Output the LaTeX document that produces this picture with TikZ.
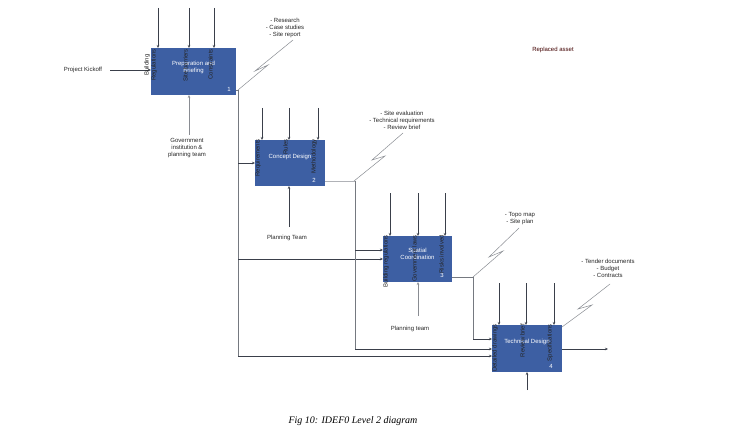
\documentclass[tikz,border=0pt]{standalone}
\usepackage{fontspec}
\setmainfont{Liberation Sans}
\newfontfamily\capfont{Liberation Serif}
\usetikzlibrary{arrows.meta}
\definecolor{boxblue}{HTML}{3D5FA3}
\definecolor{ln}{HTML}{3A3F4A}
\begin{document}
\begin{tikzpicture}[x=1pt,y=-1pt,
  box/.style={fill=boxblue,draw=boxblue!70!white,minimum width=#1,inner sep=0pt},
  fn/.style={font=\fontsize{6}{7}\selectfont,text=white,align=center},
  lbl/.style={font=\fontsize{6}{7}\selectfont,text=black!85,align=center,inner sep=1pt},
  arr/.style={draw=ln,line width=0.6pt,-{Stealth[length=3pt,width=2.5pt]}},
  ln/.style={draw=ln!70,line width=0.6pt},
  zz/.style={draw=ln!60,line width=0.5pt}]
\useasboundingbox (0,0) rectangle (731,441);
% boxes
\fill[boxblue] (151,48) rectangle (236,95);
\fill[boxblue] (255,140) rectangle (325,186);
\fill[boxblue] (383,236) rectangle (452,282);
\fill[boxblue] (492,325) rectangle (562,372);
\node[fn] (b1) at (193.5,67) {Preparation and\\Briefing};
\node[fn] (n1) at (229,89) {1};
\node[fn] (b2) at (290,157) {Concept Design};
\node[fn] (n2) at (314,180) {2};
\node[fn] (b3) at (417.5,254) {Spatial\\Coordination};
\node[fn] (n3) at (442,275) {3};
\node[fn] (b4) at (527,342) {Technical Design};
\node[fn] (n4) at (551,366) {4};
% input
\node[lbl] (pk) at (83,70) {Project Kickoff};
\coordinate (i1) at (151,70);
\draw[arr] (110,70) -- (i1);
% controls box1
\foreach \x/\t in {158/{Building\\Regulations},189/{Site barriers},214/{Constraints}}{
  \draw[arr] (\x,8) -- (\x,48);
  \node[lbl,rotate=90,anchor=south east] at (\x,48) {\t};}
% controls box2
\foreach \x/\t in {262/Requirements,289/Rules,318/Methodology}{
  \draw[arr] (\x,108) -- (\x,140);
  \node[lbl,rotate=90,anchor=south east] at (\x,138) {\t};}
% controls box3
\foreach \x/\t in {390/{Building regulations},418/{Government laws},445/{Risks involved}}{
  \draw[arr] (\x,193) -- (\x,236);
  \node[lbl,rotate=90,anchor=south east] at (\x,234) {\t};}
% controls box4
\foreach \x/\t in {499/{Detailed drawings},526/{Review brief},554/{Specifications}}{
  \draw[arr] (\x,283) -- (\x,325);
  \node[lbl,rotate=90,anchor=south east] at (\x,323) {\t};}
% mechanisms
\node[lbl] (m1) at (187,148) {Government\\institution \&\\planning team};
\draw[arr,draw=ln!60] (189,135) -- (189,95);
\node[lbl] (m2) at (287,238) {Planning Team};
\draw[arr] (289,227) -- (289,186);
\node[lbl] (m3) at (410,329) {Planning team};
\draw[arr,draw=ln!60] (418,316) -- (418,282);
\draw[arr] (527,390) -- (527,372);
% flows
\draw[ln] (236,90) -- (238,90) -- (238,356);
\draw[arr] (238,163) -- (255,163);
\draw[arr] (238,259) -- (383,259);
\draw[arr] (238,356) -- (492,356);
\draw[ln,draw=ln!40] (325,181) -- (355,181);
\draw[ln] (355,181) -- (355,349);
\draw[arr] (355,250) -- (383,250);
\draw[arr] (355,349) -- (492,349);
\draw[ln] (452,277) -- (473,277) -- (473,339);
\draw[arr] (473,339) -- (492,339);
\draw[arr] (562,349) -- (608,349);
% notes
\draw[zz] (238,90) -- (268,65) -- (255,71) -- (293,40);
\node[lbl] (t1) at (285,28) {- Research\\- Case studies\\- Site report};
\draw[zz] (354,181) -- (385,156) -- (372,160) -- (403,133);
\node[lbl] (t2) at (402,120) {- Site evaluation\\- Technical requirements\\- Review brief};
\draw[zz] (473,277) -- (503,251) -- (489,257) -- (519,228);
\node[lbl] (t3) at (520,219) {- Topo map\\- Site plan};
\draw[zz] (562,327) -- (592,305) -- (578,309) -- (610,284);
\node[lbl] (t4) at (608,268) {- Tender documents\\- Budget\\- Contracts};
\node[lbl,text=black!75!red] (ra) at (553,50) {Replaced asset};
\node[font=\capfont\itshape\fontsize{10}{12}\selectfont] (cap) at (353,421) {Fig 10: IDEF0 Level 2 diagram};
\end{tikzpicture}
\end{document}
